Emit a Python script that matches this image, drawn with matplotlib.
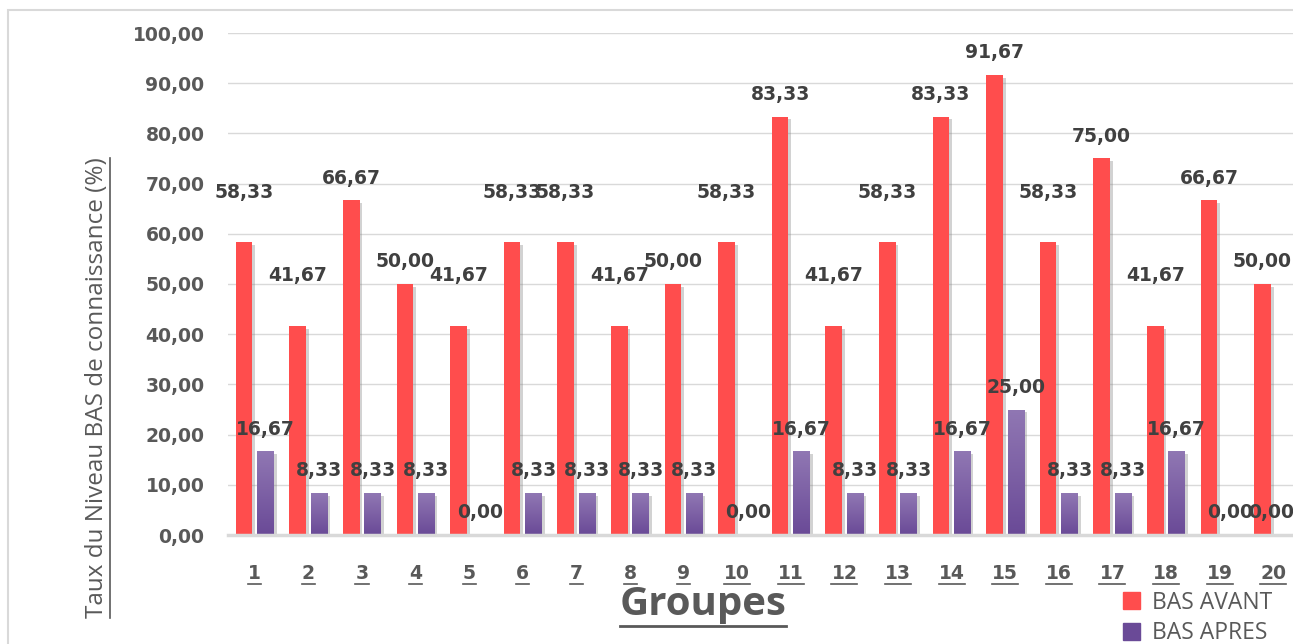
import numpy as np
import matplotlib
matplotlib.use('Agg')
import matplotlib.pyplot as plt
from matplotlib.lines import Line2D
from matplotlib.patches import Rectangle, Patch
from matplotlib import patheffects as pe
from matplotlib.colors import LinearSegmentedColormap

# Taux de niveau BAS par groupe, avant et après
groupes = [str(i) for i in range(1, 21)]
bas_avant = [58.33, 41.67, 66.67, 50.00, 41.67, 58.33, 58.33, 41.67, 50.00, 58.33,
             83.33, 41.67, 58.33, 83.33, 91.67, 58.33, 75.00, 41.67, 66.67, 50.00]
bas_apres = [16.67, 8.33, 8.33, 8.33, 0.00, 8.33, 8.33, 8.33, 8.33, 0.00,
             16.67, 8.33, 8.33, 16.67, 25.00, 8.33, 8.33, 16.67, 0.00, 0.00]
y_ticks = [0, 10, 20, 30, 40, 50, 60, 70, 80, 90, 100]

ROUGE = '#ff4d4d'
VIOLET_HAUT = '#9077b3'
VIOLET_BAS = '#6a4a97'
GRIS_TXT = '#595959'
GRIS_VAL = '#404040'

fig = plt.figure(figsize=(12.93, 6.44), dpi=100)
ax = fig.add_axes([228 / 1293, 109 / 644, 1072 / 1293, 502 / 644])

x = np.arange(1, len(groupes) + 1)
w = 0.31
ombre = [pe.SimplePatchShadow(offset=(2, -2), shadow_rgbFace='#7f7f7f', alpha=0.35), pe.Normal()]

barres_av = ax.bar(x - 0.2, bas_avant, w, color=ROUGE, zorder=3)
barres_ap = ax.bar(x + 0.2, bas_apres, w, color=VIOLET_BAS, zorder=3)
for b in list(barres_av) + list(barres_ap):
    b.set_path_effects(ombre)

# dégradé vertical sur les barres violettes
cmap = LinearSegmentedColormap.from_list('violet', [VIOLET_BAS, VIOLET_HAUT])
grad = np.linspace(0, 1, 64).reshape(-1, 1)
for b in barres_ap:
    h = b.get_height()
    if h <= 0:
        continue
    im = ax.imshow(grad, cmap=cmap, origin='lower', aspect='auto', zorder=4,
                   extent=(b.get_x(), b.get_x() + b.get_width(), 0, h))
    im.set_clip_path(b)

ax.set_xlim(0.5, 20.5)
ax.set_ylim(0, 100)
ax.set_yticks(y_ticks)
ax.set_yticklabels([f'{v:.2f}'.replace('.', ',') for v in y_ticks])
ax.set_xticks(x)
ax.set_xticklabels(groupes)
ax.tick_params(length=0)
ax.tick_params(axis='y', pad=17, labelsize=13.5, labelcolor=GRIS_TXT)
ax.tick_params(axis='x', pad=21, labelsize=13.5, labelcolor=GRIS_TXT)
for lab in ax.get_xticklabels() + ax.get_yticklabels():
    lab.set_fontweight('bold')
    lab.set_family('DejaVu Sans')

ax.grid(axis='y', color='#d9d9d9', lw=1, zorder=0)
for s in ['top', 'right', 'left']:
    ax.spines[s].set_visible(False)
ax.spines['bottom'].set_color('#d9d9d9')
ax.spines['bottom'].set_linewidth(2.5)
ax.spines['bottom'].set_zorder(5)

# étiquettes de valeur
def fmt(v):
    return f'{v:.2f}'.replace('.', ',')

for b, v in zip(barres_av, bas_avant):
    lift = 36 if v in (58.33, 41.67) else 16
    ax.annotate(fmt(v), (b.get_x() + b.get_width() / 2, v), xytext=(0, lift),
                textcoords='offset points', ha='center', va='center',
                fontsize=13.5, fontweight='bold', color=GRIS_VAL, zorder=6)
n = len(bas_apres)
for i, (b, v) in enumerate(zip(barres_ap, bas_apres)):
    # la dernière étiquette est ramenée vers l'intérieur du graphique
    dx = -9 if i == n - 1 else 0
    ax.annotate(fmt(v), (b.get_x() + b.get_width() / 2, v), xytext=(dx, 16),
                textcoords='offset points', ha='center', va='center',
                fontsize=13.5, fontweight='bold', color=GRIS_VAL, zorder=6)

ylab = fig.text(97 / 1293, 1 - 388 / 644, 'Taux du Niveau BAS de connaissance (%)',
                rotation=90, ha='center', va='center', fontsize=17.5,
                family='Open Sans', color=GRIS_TXT)
xlab = fig.text(703 / 1293, 1 - 605 / 644, 'Groupes', ha='center', va='center',
                fontsize=29, fontweight='bold', family='Open Sans', color=GRIS_TXT)

handles = [Patch(color=ROUGE), Patch(color=VIOLET_BAS)]
fig.legend(handles, ['BAS AVANT', 'BAS APRES'], loc='center left',
           bbox_to_anchor=(1102 / 1293, 1 - 618 / 644), frameon=False,
           handlelength=0.75, handleheight=0.75, handletextpad=0.55, labelspacing=0.3,
           prop={'family': 'Open Sans', 'size': 16.5, 'weight': 'medium'}, labelcolor=GRIS_TXT)

# cadre extérieur
fig.add_artist(Rectangle((8 / 1293, -0.05), 1.2, 1 - 10 / 644 + 0.05, transform=fig.transFigure,
                         fill=False, edgecolor='#d9d9d9', lw=1.5))

# soulignement des titres et des numéros de groupe
fig.canvas.draw()
r = fig.canvas.get_renderer()
def souligner(t, vertical=False, lw=1.2):
    bb = t.get_window_extent(r)
    if vertical:
        xs = [bb.x1 + 1, bb.x1 + 1]
        ys = [bb.y0, bb.y1]
    else:
        xs = [bb.x0, bb.x1]
        ys = [bb.y0 - 1, bb.y0 - 1]
    fig.add_artist(Line2D(np.array(xs) / fig.bbox.width, np.array(ys) / fig.bbox.height,
                          transform=fig.transFigure, color=t.get_color(), lw=lw))

for lab in ax.get_xticklabels():
    souligner(lab)
souligner(ylab, vertical=True)
souligner(xlab, lw=2)

fig.savefig('out.png', dpi=100)
